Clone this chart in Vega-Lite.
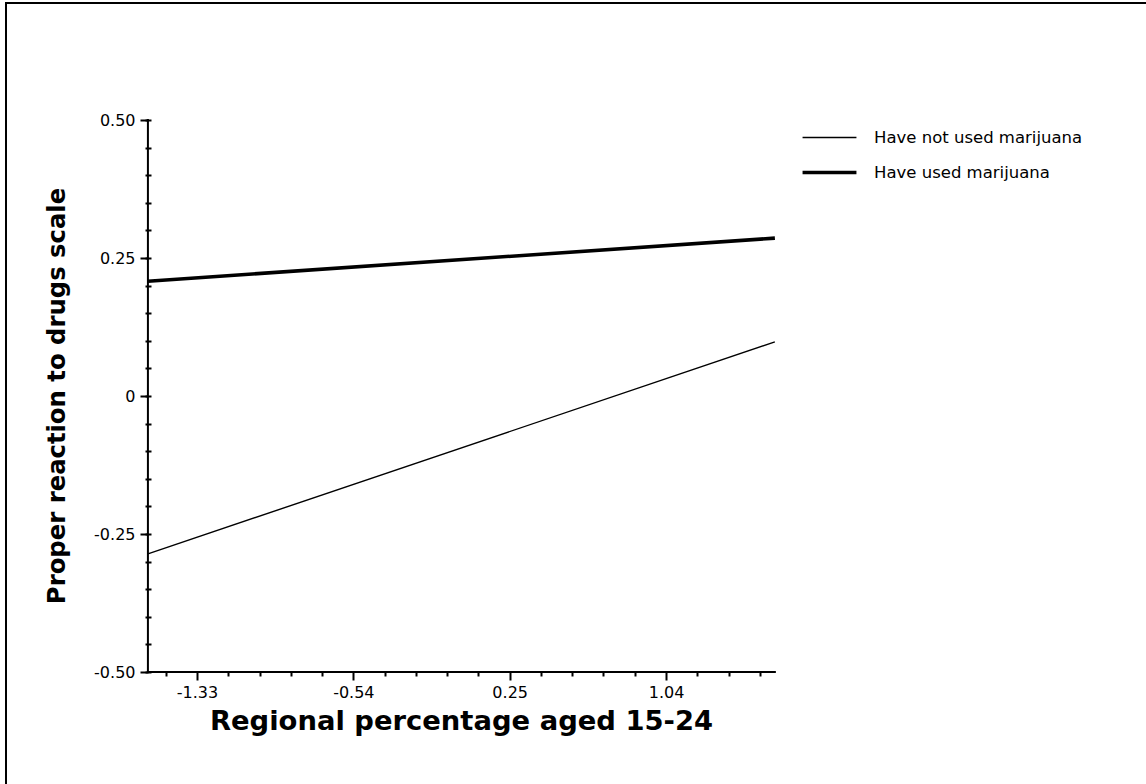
{
  "$schema": "https://vega.github.io/schema/vega-lite/v6.json",
  "width": 1144,
  "height": 785,
  "autosize": {"type": "none"},
  "padding": {"left": 6, "top": 3, "right": -4, "bottom": -4},
  "background": "white",
  "config": {
    "view": {"stroke": null},
    "font": "DejaVu Sans"
  },
  "data": {
    "values": [
      {"series": "Have not used marijuana", "x": -1.578, "y": -0.286},
      {"series": "Have not used marijuana", "x": 1.59, "y": 0.098},
      {"series": "Have used marijuana", "x": -1.578, "y": 0.208},
      {"series": "Have used marijuana", "x": 1.59, "y": 0.286}
    ]
  },
  "layer": [
    {
      "mark": {"type": "line", "color": "black", "clip": false},
      "encoding": {
        "x": {
          "field": "x", "type": "quantitative",
          "scale": {"domain": [-2.29513, 3.48557], "nice": false, "zero": false},
          "axis": {
            "orient": "bottom", "offset": -116,
            "values": [-1.33, -0.54, 0.25, 1.04],
            "domain": false, "grid": false,
            "tickSize": 8, "tickWidth": 2, "tickColor": "black",
            "labelFont": "DejaVu Sans", "labelFontSize": 16, "labelColor": "black", "labelPadding": 4,
            "labelFlush": false, "labelOverlap": false,
            "labelExpr": "replace(format(datum.value, '.2f'), '\u2212', '-')",
            "title": "Regional percentage aged 15-24",
            "titleFont": "DejaVu Sans", "titleFontSize": 27.4, "titleFontWeight": "bold", "titleColor": "black",
            "titleX": 455, "titleAlign": "center", "titlePadding": 7
          }
        },
        "y": {
          "field": "y", "type": "quantitative",
          "scale": {"domain": [-0.71014, 0.71196], "nice": false, "zero": false},
          "axis": {
            "orient": "left", "offset": -142,
            "values": [-0.5, -0.25, 0, 0.25, 0.5],
            "domain": false, "grid": false,
            "tickSize": 8, "tickWidth": 2, "tickColor": "black",
            "labelFont": "DejaVu Sans", "labelFontSize": 16, "labelColor": "black", "labelPadding": 5,
            "labelFlush": false, "labelOverlap": false,
            "labelExpr": "datum.value == 0 ? '0' : replace(format(datum.value, '.2f'), '\u2212', '-')",
            "title": "Proper reaction to drugs scale",
            "titleFont": "DejaVu Sans", "titleFontSize": 24.3, "titleFontWeight": "bold", "titleColor": "black",
            "titlePadding": 24
          }
        },
        "strokeWidth": {
          "field": "series", "type": "nominal",
          "scale": {"domain": ["Have not used marijuana", "Have used marijuana"], "range": [1.4, 3.6]},
          "legend": {
            "orient": "none", "legendX": 797, "legendY": 109,
            "title": null, "padding": 0,
            "symbolType": "M-1.1,0H1.1", "symbolSize": 2400, "symbolStrokeColor": "black",
            "labelFont": "DejaVu Sans", "labelFontSize": 16.5, "labelColor": "black", "labelOffset": 18,
            "labelLimit": 0,
            "rowPadding": 0
          }
        }
      }
    },
    {
      "mark": {"type": "rule", "color": "black", "strokeWidth": 2, "strokeCap": "square"},
      "encoding": {
        "x": {
          "aggregate": "min", "field": "x", "type": "quantitative",
          "scale": {"domain": [-2.29513, 3.48557], "nice": false, "zero": false},
          "axis": {
            "orient": "bottom", "offset": -116,
            "values": [-1.488, -1.172, -1.014, -0.856, -0.698, -0.382, -0.224, -0.066, 0.092, 0.408, 0.566, 0.724, 0.882, 1.198, 1.356, 1.514],
            "domain": false, "grid": false, "labels": false,
            "tickSize": 4, "tickWidth": 2, "tickColor": "black", "title": null
          }
        },
        "x2": {"aggregate": "max", "field": "x"},
        "y": {"datum": -0.5, "type": "quantitative", "scale": {"domain": [-0.71014, 0.71196], "nice": false, "zero": false}, "axis": null}
      }
    },
    {
      "mark": {"type": "rule", "color": "black", "strokeWidth": 2, "strokeCap": "square"},
      "encoding": {
        "x": {
          "aggregate": "min", "field": "x", "type": "quantitative",
          "scale": {"domain": [-2.29513, 3.48557], "nice": false, "zero": false},
          "axis": null
        },
        "y": {
          "datum": -0.5, "type": "quantitative",
          "scale": {"domain": [-0.71014, 0.71196], "nice": false, "zero": false},
          "axis": {
            "orient": "left", "offset": -145,
            "values": [-0.5, -0.45, -0.4, -0.35, -0.3, -0.25, -0.2, -0.15, -0.1, -0.05, 0, 0.05, 0.1, 0.15, 0.2, 0.25, 0.3, 0.35, 0.4, 0.45, 0.5],
            "domain": false, "grid": false, "labels": false,
            "tickSize": 6, "tickWidth": 2, "tickColor": "black", "title": null
          }
        },
        "y2": {"datum": 0.5}
      }
    },
    {
      "mark": {"type": "rule", "color": "black", "strokeWidth": 2, "strokeCap": "square", "clip": false},
      "encoding": {
        "x": {"datum": -2.29513, "type": "quantitative", "scale": {"domain": [-2.29513, 3.48557], "nice": false, "zero": false}, "axis": null},
        "x2": {"datum": 3.48557},
        "y": {"datum": 0.71196, "type": "quantitative", "scale": {"domain": [-0.71014, 0.71196], "nice": false, "zero": false}, "axis": null}
      }
    },
    {
      "mark": {"type": "rule", "color": "black", "strokeWidth": 2, "strokeCap": "square", "clip": false},
      "encoding": {
        "x": {"datum": -2.29513, "type": "quantitative", "scale": {"domain": [-2.29513, 3.48557], "nice": false, "zero": false}, "axis": null},
        "y": {"datum": 0.71196, "type": "quantitative", "scale": {"domain": [-0.71014, 0.71196], "nice": false, "zero": false}, "axis": null},
        "y2": {"datum": -0.71014}
      }
    }
  ],
  "resolve": {"axis": {"x": "independent", "y": "independent"}}
}
